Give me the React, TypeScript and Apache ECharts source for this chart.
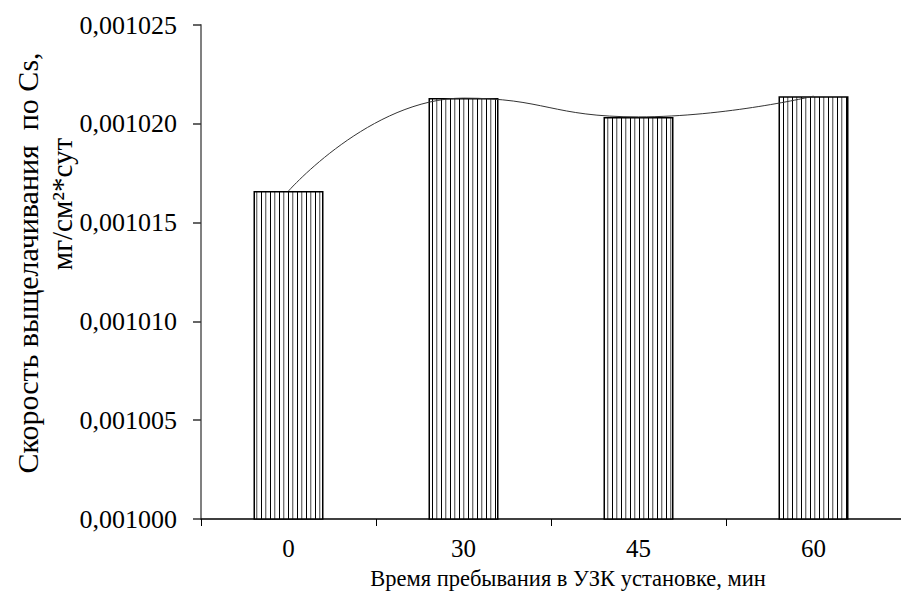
import React, { useEffect, useRef } from "react";
import * as echarts from "echarts";

const categories = ["0", "30", "45", "60"];
const values = [0.0010166, 0.0010213, 0.00102035, 0.0010214];
const yMin = 0.001;
const yMax = 0.001025;
const yInterval = 0.000005;
const yTitle1 = "Скорость выщелачивания  по Cs,";
const yTitle2 = "мг/см²*сут";
const xTitle = "Время пребывания в УЗК установке, мин";

function makePattern(): string {
  const c = document.createElement("canvas");
  c.width = 9;
  c.height = 10;
  const ctx = c.getContext("2d")!;
  ctx.fillStyle = "#ffffff";
  ctx.fillRect(0, 0, 9, 10);
  ctx.fillStyle = "#000000";
  ctx.fillRect(0, 0, 1, 10);
  ctx.fillStyle = "#777777";
  ctx.fillRect(4, 0, 1, 10);
  ctx.fillStyle = "#cccccc";
  ctx.fillRect(5, 0, 1, 10);
  return c.toDataURL();
}

export default function App() {
  const ref = useRef<HTMLDivElement>(null);
  useEffect(() => {
    if (!ref.current) return;
    const chart = echarts.init(ref.current, undefined, { renderer: "svg" });
    const font = "Liberation Serif, DejaVu Serif, serif";
    chart.setOption({
      animation: false,
      backgroundColor: "#ffffff",
      textStyle: { fontFamily: font },
      grid: { left: 201, right: -12, top: 25, bottom: 73, containLabel: false },
      xAxis: {
        type: "category",
        data: categories,
        boundaryGap: true,
        axisLine: { show: true, lineStyle: { color: "#000", width: 1.5 } },
        axisTick: { show: true, length: 7, inside: false, lineStyle: { color: "#000", width: 1 } },
        axisLabel: { color: "#000", fontFamily: font, fontSize: 25, margin: 17 },
        splitLine: { show: false },
      },
      yAxis: {
        type: "value",
        min: yMin,
        max: yMax,
        interval: yInterval,
        axisLine: { show: true, lineStyle: { color: "#808080", width: 2 } },
        axisTick: { show: true, length: 8, lineStyle: { color: "#333", width: 1.5 } },
        axisLabel: {
          color: "#000",
          fontFamily: font,
          fontSize: 26,
          margin: 24,
          formatter: (v: number) => v.toFixed(6).replace(".", ","),
        },
        splitLine: { show: false },
      },
      graphic: [
        {
          type: "text",
          x: 27,
          y: 263,
          rotation: Math.PI / 2,
          style: {
            text: yTitle1,
            fontFamily: font,
            fontSize: 30,
            fill: "#000",
            align: "center",
            verticalAlign: "middle",
          },
        },
        {
          type: "text",
          x: 62,
          y: 204,
          rotation: Math.PI / 2,
          style: {
            text: yTitle2,
            fontFamily: font,
            fontSize: 29,
            fill: "#000",
            align: "center",
            verticalAlign: "middle",
          },
        },
        {
          type: "text",
          x: 568,
          y: 578,
          style: {
            text: xTitle,
            fontFamily: font,
            fontSize: 22.5,
            fill: "#000",
            align: "center",
            verticalAlign: "middle",
          },
        },
      ],
      series: [
        {
          type: "bar",
          data: values,
          barWidth: "40%",
          itemStyle: {
            color: { image: makePattern(), repeat: "repeat" },
            borderColor: "#000",
            borderWidth: 1.5,
          },
          z: 2,
        },
        {
          type: "line",
          data: values,
          smooth: 0.5,
          symbol: "none",
          lineStyle: { color: "#333", width: 1 },
          z: 3,
        },
      ],
    });
    return () => chart.dispose();
  }, []);
  return <div ref={ref} style={{ width: 901, height: 592, position: "absolute", left: 0, top: 0 }} />;
}
